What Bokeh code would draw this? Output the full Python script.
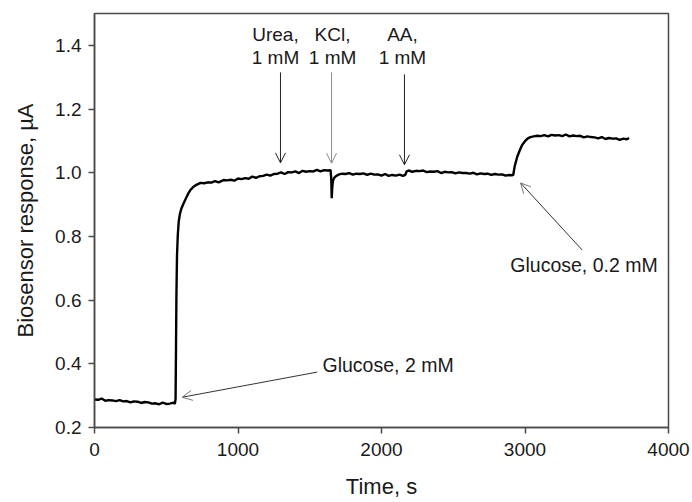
from bokeh.plotting import figure
from bokeh.models import Range1d, FixedTicker, PrintfTickFormatter, Arrow, OpenHead, ColumnDataSource
from bokeh.core.properties import value
from bokeh.embed import file_html
from bokeh.resources import INLINE

# ---- data ----
time_s = [0, 25, 50, 75, 100, 125, 150, 175, 200, 225, 250, 275, 300, 325, 350, 375, 400, 425,
          450, 475, 500, 525, 550, 560, 565, 568, 571, 575, 580, 587, 595, 605, 622, 640, 655,
          669, 690, 710, 739, 765, 790, 815, 840, 865, 899, 925, 950, 975, 1000, 1025, 1050,
          1075, 1100, 1125, 1150, 1175, 1200, 1225, 1250, 1275, 1300, 1325, 1350, 1375, 1400,
          1425, 1450, 1475, 1500, 1525, 1550, 1575, 1600, 1625, 1645, 1650, 1653, 1657, 1662,
          1670, 1685, 1700, 1725, 1750, 1775, 1800, 1825, 1850, 1875, 1900, 1925, 1950, 1975,
          2000, 2025, 2050, 2075, 2100, 2125, 2150, 2165, 2175, 2190, 2215, 2240, 2265, 2290,
          2315, 2340, 2365, 2390, 2415, 2440, 2465, 2490, 2515, 2540, 2565, 2590, 2615, 2640,
          2665, 2690, 2715, 2740, 2765, 2790, 2815, 2840, 2865, 2890, 2910, 2918, 2928, 2946,
          2965, 2981, 3000, 3020, 3038, 3060, 3085, 3110, 3135, 3160, 3185, 3210, 3235, 3260,
          3285, 3310, 3335, 3360, 3385, 3410, 3435, 3460, 3485, 3510, 3535, 3560, 3585, 3610,
          3635, 3660, 3685, 3710, 3725]
response_uA = [0.288, 0.287, 0.291, 0.284, 0.286, 0.285, 0.283, 0.286, 0.282, 0.283, 0.279, 0.282,
               0.281, 0.277, 0.280, 0.279, 0.275, 0.276, 0.273, 0.278, 0.274, 0.275, 0.278, 0.274,
               0.290, 0.450, 0.620, 0.740, 0.800, 0.847, 0.870, 0.887, 0.905, 0.922, 0.936,
               0.946, 0.956, 0.962, 0.968, 0.967, 0.970, 0.969, 0.974, 0.970, 0.977, 0.976,
               0.978, 0.975, 0.982, 0.980, 0.983, 0.981, 0.988, 0.984, 0.989, 0.990, 0.994,
               0.991, 0.996, 0.997, 1.001, 0.996, 1.002, 1.001, 1.004, 0.999, 1.006, 1.003,
               1.005, 1.004, 1.009, 1.004, 1.008, 1.007, 1.008, 0.980, 0.920, 0.955, 0.975,
               0.984, 0.990, 0.994, 0.997, 0.996, 0.999, 0.994, 0.997, 0.996, 0.998, 0.993,
               0.997, 0.994, 0.995, 0.991, 0.996, 0.990, 0.993, 0.991, 0.994, 0.990, 0.993,
               1.004, 1.007, 1.003, 1.006, 1.005, 1.007, 1.002, 1.004, 1.003, 1.005, 0.999,
               1.003, 1.001, 1.002, 0.998, 1.001, 0.999, 0.999, 0.997, 1.000, 0.995, 0.998,
               0.996, 0.997, 0.993, 0.996, 0.994, 0.995, 0.991, 0.993, 0.992, 0.993, 1.020,
               1.050, 1.072, 1.088, 1.099, 1.108, 1.112, 1.114, 1.116, 1.115, 1.118, 1.114,
               1.119, 1.117, 1.118, 1.115, 1.120, 1.114, 1.117, 1.115, 1.116, 1.111, 1.114,
               1.112, 1.111, 1.108, 1.112, 1.106, 1.109, 1.107, 1.108, 1.103, 1.107, 1.105,
               1.109, 1.104, 1.108, 1.107]

x_ticks = [0, 1000, 2000, 3000, 4000]
y_ticks = [0.2, 0.4, 0.6, 0.8, 1.0, 1.2, 1.4]

# vertical injection arrows (x, y_start, y_end) and their two-line labels
inj_names = ["Urea,", "KCl,", "AA,"]
inj_conc = ["1 mM", "1 mM", "1 mM"]
inj_label_x = [1261, 1659, 2146]
inj_arrow_x = [1296, 1652, 2160]
inj_arrow_y0 = [1.315, 1.315, 1.309]
inj_arrow_y1 = [1.031, 1.030, 1.025]
inj_arrow_color = ["#222222", "#8a8a8a", "#222222"]
label_line1_y = 1.435
label_line2_y = 1.362

# glucose annotations
glu_labels = ["Glucose, 2 mM", "Glucose, 0.2 mM"]
glu_label_x = [1589, 3411]
glu_label_y = [0.395, 0.710]
glu_label_align = ["left", "center"]
glu_arrow_x0 = [1552, 3399]
glu_arrow_y0 = [0.374, 0.757]
glu_arrow_x1 = [611, 2969]
glu_arrow_y1 = [0.295, 0.968]

FONT = "Liberation Sans"
TXT = "#1a1a1a"
AX = "#4a4a4a"

p = figure(width=692, height=502, output_backend="svg", toolbar_location=None,
           x_range=Range1d(0, 4000), y_range=Range1d(0.2, 1.5),
           min_border_left=94, min_border_right=24, min_border_top=13, min_border_bottom=75)
p.background_fill_color = "white"
p.border_fill_color = "white"
p.outline_line_color = AX
p.outline_line_width = 1.5
p.xgrid.grid_line_color = None
p.ygrid.grid_line_color = None

p.xaxis.ticker = FixedTicker(ticks=x_ticks)
p.yaxis.ticker = FixedTicker(ticks=y_ticks)
p.xaxis.formatter = PrintfTickFormatter(format="%d")
p.yaxis.formatter = PrintfTickFormatter(format="%.1f")
for ax in (p.xaxis[0], p.yaxis[0]):
    ax.axis_line_color = AX
    ax.axis_line_width = 1.5
    ax.major_tick_line_color = AX
    ax.major_tick_line_width = 1.5
    ax.major_tick_in = 0
    ax.major_tick_out = 6
    ax.minor_tick_line_color = None
    ax.major_label_text_font = FONT
    ax.major_label_text_font_size = "19px"
    ax.major_label_text_color = TXT
    ax.axis_label_text_font = FONT
    ax.axis_label_text_font_size = "22px"
    ax.axis_label_text_font_style = "normal"
    ax.axis_label_text_color = TXT
p.xaxis.axis_label = "Time, s"
p.yaxis.axis_label = "Biosensor response, µA"
p.xaxis.major_label_standoff = 9
p.yaxis.major_label_standoff = 7
p.xaxis.axis_label_standoff = 15
p.yaxis.axis_label_standoff = 14

p.line(time_s, response_uA, line_color="black", line_width=2.4)

# injection arrows and labels
for xa, y0, y1, c in zip(inj_arrow_x, inj_arrow_y0, inj_arrow_y1, inj_arrow_color):
    p.add_layout(Arrow(x_start=xa, y_start=y0, x_end=xa, y_end=y1, line_color=c, line_width=1,
                       end=OpenHead(size=10, line_color=c, line_width=1)))
src_top = ColumnDataSource(dict(x=inj_label_x + inj_label_x,
                                y=[label_line1_y] * 3 + [label_line2_y] * 3,
                                t=inj_names + inj_conc))
p.text(x="x", y="y", text="t", source=src_top, text_align="center", text_baseline="middle",
       text_font=value(FONT), text_font_size="19px", text_color=TXT)

for x0, y0, x1, y1 in zip(glu_arrow_x0, glu_arrow_y0, glu_arrow_x1, glu_arrow_y1):
    p.add_layout(Arrow(x_start=x0, y_start=y0, x_end=x1, y_end=y1, line_color="#333333", line_width=1,
                       end=OpenHead(size=10, line_color="#777777", line_width=1)))
src_glu = ColumnDataSource(dict(x=glu_label_x, y=glu_label_y, t=glu_labels, a=glu_label_align))
p.text(x="x", y="y", text="t", source=src_glu, text_align="a", text_baseline="middle",
       text_font=value(FONT), text_font_size="19.5px", text_color=TXT)

open("out.html", "w").write(file_html(p, INLINE))
